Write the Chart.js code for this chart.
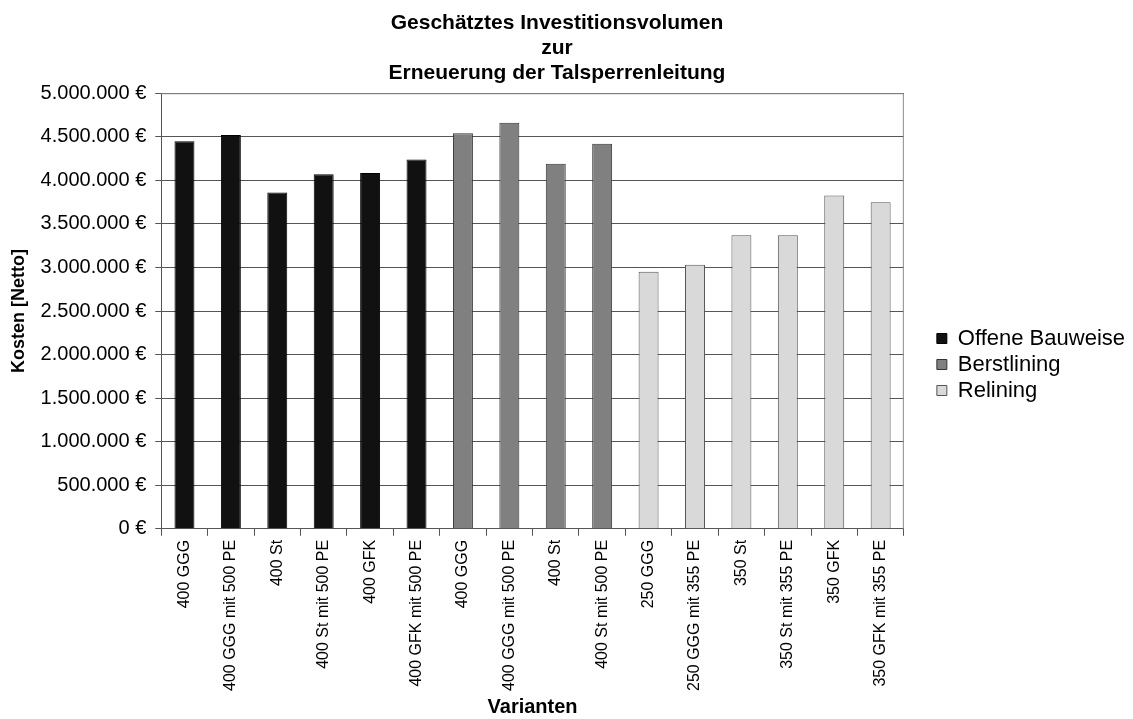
<!DOCTYPE html>
<html>
<head>
<meta charset="utf-8">
<script src="https://cdn.jsdelivr.net/npm/chart.js@4/dist/chart.umd.min.js"></script>
<style>
  html, body { margin: 0; padding: 0; background: #fff; }
  #wrap { width: 1133px; height: 719px; }
</style>
</head>
<body>
<div id="wrap"><canvas id="kostenChart" width="1133" height="719"></canvas></div>
<script>
// Varianten (Kategorien der x-Achse)
const varianten = [
    '400 GGG', '400 GGG mit 500 PE', '400 St', '400 St mit 500 PE', '400 GFK', '400 GFK mit 500 PE',
    '400 GGG', '400 GGG mit 500 PE', '400 St', '400 St mit 500 PE',
    '250 GGG', '250 GGG mit 355 PE', '350 St', '350 St mit 355 PE', '350 GFK', '350 GFK mit 355 PE'
];

// Kosten je Bauweise in Euro (netto)
const offeneBauweise = [4450000, 4520000, 3860000, 4070000, 4085000, 4240000];
const berstlining = [4540000, 4660000, 4190000, 4420000];
const relining = [2950000, 3030000, 3370000, 3370000, 3825000, 3750000];

const yTicks = { min: 0, max: 5000000, step: 500000 };

// Werte auf die Position der jeweiligen Variante legen
function place(values, start) {
    return varianten.map((_, i) => (i >= start && i < start + values.length) ? values[i - start] : null);
}

const euro = v => v.toLocaleString('de-DE') + ' €';

// Rahmen um die Zeichenfläche
const frame = {
    id: 'frame',
    afterDraw(chart) {
        const { ctx, chartArea: a } = chart;
        ctx.save();
        ctx.strokeStyle = '#8c8c8c';
        ctx.lineWidth = 1;
        ctx.beginPath();
        ctx.moveTo(a.left, a.top + 0.5);
        ctx.lineTo(a.right - 0.5, a.top + 0.5);
        ctx.lineTo(a.right - 0.5, a.bottom);
        ctx.stroke();
        ctx.restore();
    }
};

// Legende etwas vom Diagramm abrücken
const legendGap = {
    id: 'legendGap',
    afterLayout(chart) {
        const l = chart.legend;
        if (!l) return;
        l.left += 29;
        l.right += 29;
    }
};

const font = 'Liberation Sans, Arial, sans-serif';

new Chart(document.getElementById('kostenChart'), {
    type: 'bar',
    data: {
        labels: varianten,
        datasets: [
            { label: 'Offene Bauweise', data: place(offeneBauweise, 0), backgroundColor: '#111111', borderColor: '#000000', borderWidth: 1 },
            { label: 'Berstlining', data: place(berstlining, 6), backgroundColor: '#808080', borderColor: '#333333', borderWidth: 1 },
            { label: 'Relining', data: place(relining, 10), backgroundColor: '#d9d9d9', borderColor: '#555555', borderWidth: 1 }
        ]
    },
    options: {
        responsive: false,
        devicePixelRatio: 1,
        animation: false,
        layout: { padding: { left: 8, right: 27, top: 10, bottom: 0 } },
        datasets: { bar: { grouped: false, barPercentage: 0.43, categoryPercentage: 1 } },
        plugins: {
            title: {
                display: true,
                text: ['Geschätztes Investitionsvolumen', 'zur', 'Erneuerung der Talsperrenleitung'],
                color: '#000',
                font: { family: font, size: 21, weight: 'bold', lineHeight: 1.21 },
                padding: { top: 0, bottom: 7 }
            },
            legend: {
                position: 'right',
                labels: {
                    color: '#000',
                    font: { family: font, size: 22 },
                    boxWidth: 10,
                    boxHeight: 10,
                    padding: 4
                }
            },
            tooltip: { enabled: false }
        },
        scales: {
            x: {
                grid: { drawOnChartArea: false, color: '#555', tickLength: 7, offset: true },
                border: { color: '#555' },
                ticks: {
                    color: '#000',
                    font: { family: font, size: 16 },
                    minRotation: 90,
                    maxRotation: 90,
                    autoSkip: false,
                    padding: 4
                },
                title: {
                    display: true,
                    text: 'Varianten',
                    color: '#000',
                    font: { family: font, size: 20, weight: 'bold' },
                    padding: { top: 0, bottom: 0 }
                }
            },
            y: {
                min: yTicks.min,
                max: yTicks.max,
                grid: { color: '#555', tickLength: 6 },
                border: { color: '#555' },
                ticks: {
                    stepSize: yTicks.step,
                    color: '#000',
                    font: { family: font, size: 20 },
                    padding: 9,
                    callback: v => euro(v)
                },
                title: {
                    display: true,
                    text: 'Kosten [Netto]',
                    color: '#000',
                    font: { family: font, size: 18, weight: 'bold' },
                    padding: { top: 0, bottom: 2 }
                }
            }
        }
    },
    plugins: [frame, legendGap]
});
</script>
</body>
</html>
